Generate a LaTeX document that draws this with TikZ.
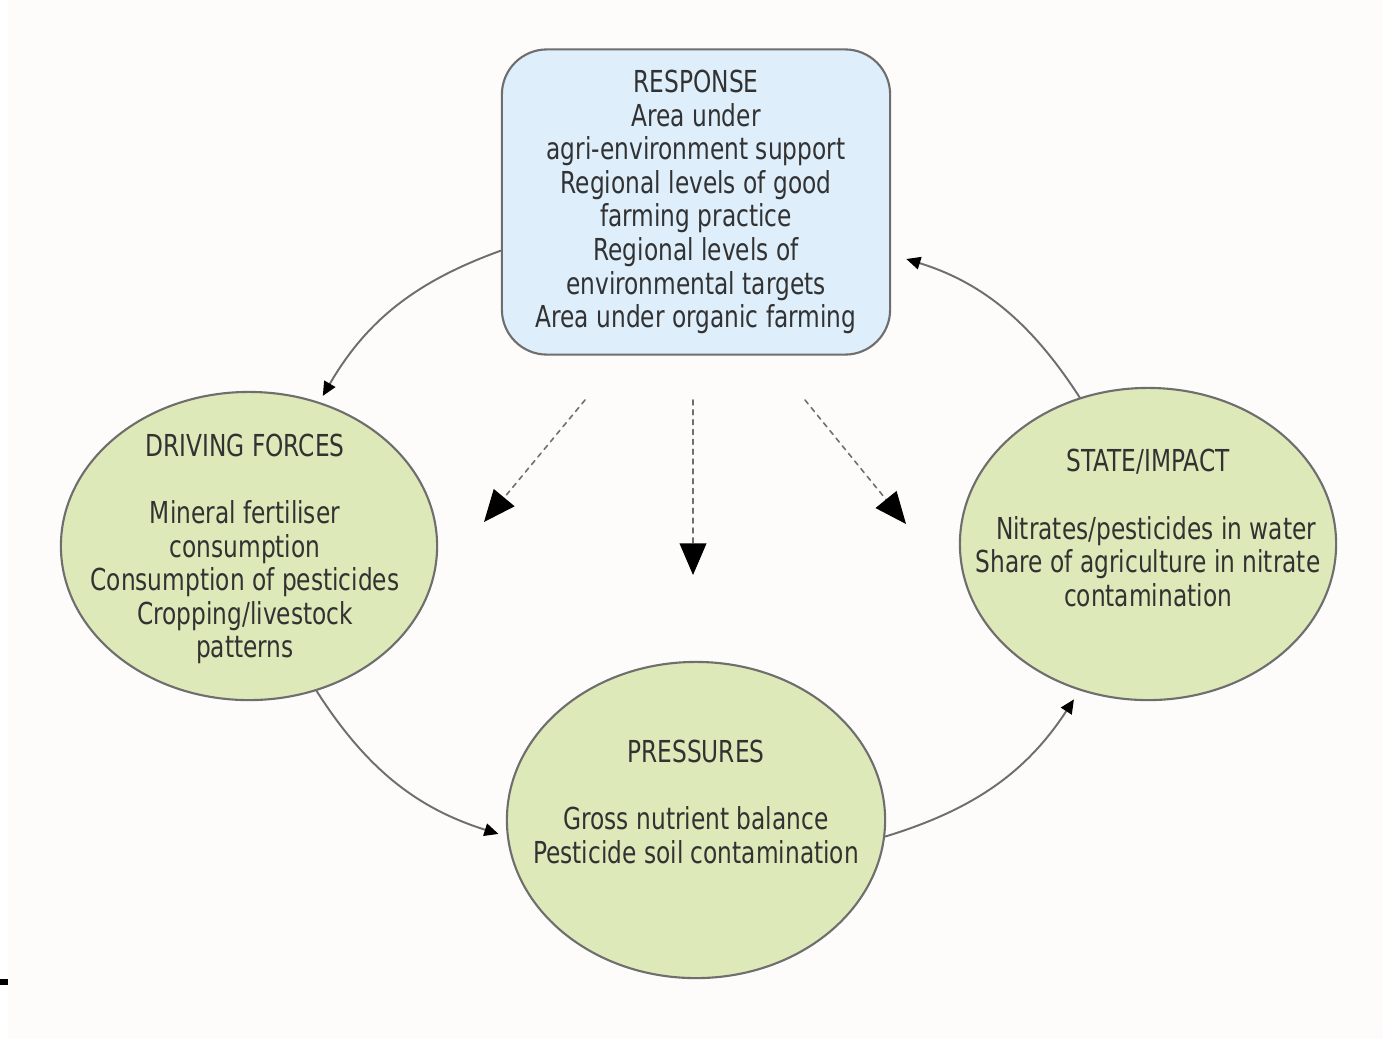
\documentclass[tikz,border=0pt]{standalone}
\usepackage{fontspec}
\setmainfont{DejaVu Sans}[FakeStretch=0.77]
\usepackage{xcolor}
\usetikzlibrary{arrows.meta}
\usetikzlibrary{shapes.geometric}
\definecolor{respfill}{RGB}{222,238,251}
\definecolor{blobfill}{RGB}{221,233,184}
\definecolor{edgegray}{RGB}{110,110,110}
\definecolor{paper}{RGB}{253,252,250}
\definecolor{txtgray}{RGB}{50,50,50}

\begin{document}
\begin{tikzpicture}[line cap=round,line join=round,x=0.01cm,y=-0.01cm,
  box/.style={draw=edgegray,line width=0.6pt,fill=respfill,rounded corners=0.45cm,minimum width=3.88cm,minimum height=3.05cm,inner sep=0pt},
  blob/.style={ellipse,draw=edgegray,line width=0.6pt,fill=blobfill,inner sep=0pt},
  txt/.style={align=center,text=txtgray,font=\fontsize{8.6}{9.56}\selectfont,inner sep=0pt},
  link/.style={draw=edgegray,line width=0.55pt,-{Triangle[length=4pt,width=3.6pt,color=black]},bend right=20},
  hint/.style={draw=edgegray,line width=0.45pt,dash pattern=on 1.4pt off 1.4pt,-{Triangle[length=9pt,width=7.6pt,color=black]}}]
\useasboundingbox (0,0) rectangle (1383,1039);
\fill[white] (0,0) rectangle (1383,1039);
\fill[paper] (8,0) rectangle (1383,1039);
\fill[black] (0,979) rectangle (8,985);

% the four boxes
\node[box,txt] (response) at (696,202) {RESPONSE\\Area under\\agri-environment support\\Regional levels of good\\farming practice\\Regional levels of\\environmental targets\\Area under organic farming};
\node[blob,minimum width=3.76cm,minimum height=3.08cm] (driving) at (249,546) {};
\node[blob,minimum width=3.78cm,minimum height=3.16cm] (pressures) at (696,820) {};
\node[blob,minimum width=3.76cm,minimum height=3.12cm] (state) at (1148,544) {};
\node[txt] (drivingtxt) at (245,549) {DRIVING FORCES\\[9.56pt]Mineral fertiliser\\consumption\\Consumption of pesticides\\Cropping/livestock\\patterns};
\node[txt] (pressurestxt) at (696,802) {PRESSURES\\[9.56pt]Gross nutrient balance\\Pesticide soil contamination};
\node[txt] (statetxt) at (1148,528) {STATE/IMPACT\\[9.56pt]\hspace*{0.16cm}Nitrates/pesticides in water\\Share of agriculture in nitrate\\contamination};

% cycle
\draw[link,shorten >=2pt] (response.194) to (driving.64);
\draw[link,shorten >=2.5pt] (driving.-65) to (pressures.185);
\draw[link,shorten >=3pt] (pressures.-5) to (state.245);
\draw[link,shorten >=4.5pt] (state.115) to (response.-15);

% dashed hints
\foreach \n/\ax/\bx/\by in {hinta/585/484/522,hintb/693/693/575,hintc/805/906/524}{
  \coordinate (\n0) at (\ax,400);
  \coordinate (\n1) at (\bx,\by);
  \draw[hint] (\n0) -- (\n1);
}
\end{tikzpicture}
\end{document}
